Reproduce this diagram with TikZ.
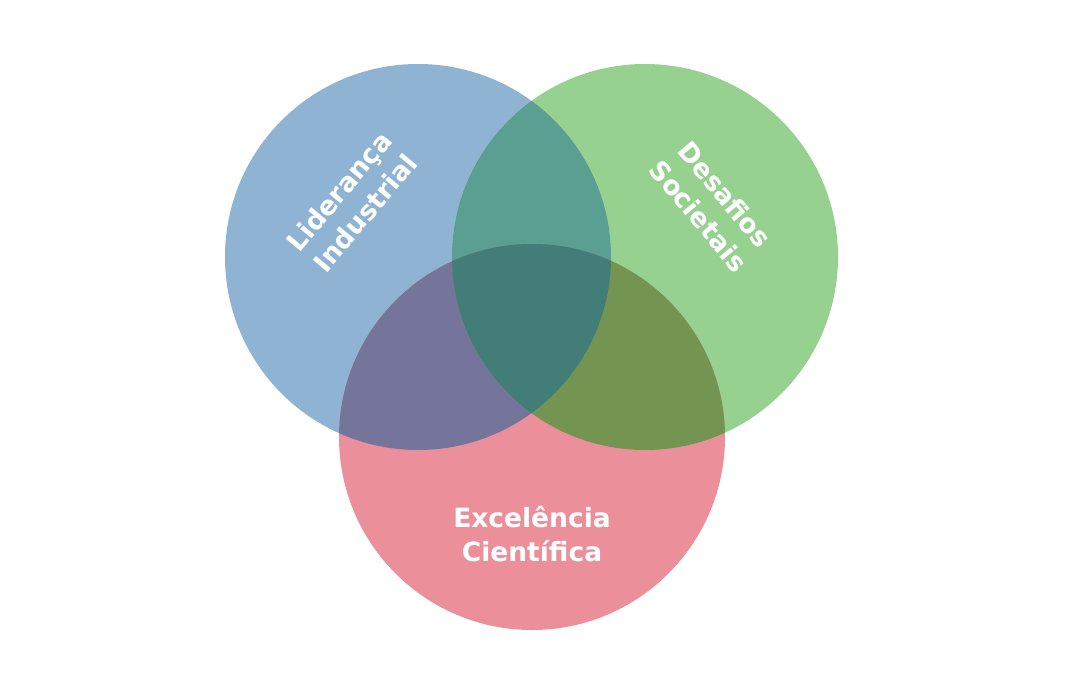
\documentclass[tikz,border=0pt]{standalone}
\usepackage{fontspec}
\setmainfont{DejaVu Sans}
\begin{document}
\begin{tikzpicture}[x=1pt,y=-1pt,
  lbl/.style={text=white,font=\bfseries\fontsize{26.5}{34}\selectfont,align=center}]
\useasboundingbox (0,0) rectangle (1080,675);
\fill[white] (0,0) rectangle (1080,675);
\def\B{(418,257) circle (193)}
\def\G{(645,257) circle (193)}
\def\R{(532,437) circle (193)}
\definecolor{cb}{HTML}{8FB4D3}
\definecolor{cg}{HTML}{96D190}
\definecolor{cr}{HTML}{EB8F9B}
\definecolor{cbg}{HTML}{5A9F92}
\definecolor{cbr}{HTML}{75759C}
\definecolor{cgr}{HTML}{749552}
\definecolor{call}{HTML}{427D78}
\fill[cb] \B; \fill[cg] \G; \fill[cr] \R;
\begin{scope}\clip \B; \fill[cbg] \G; \end{scope}
\begin{scope}\clip \B; \fill[cbr] \R; \end{scope}
\begin{scope}\clip \G; \fill[cgr] \R; \end{scope}
\begin{scope}\clip \B; \clip \G; \fill[call] \R; \end{scope}
\node[lbl,rotate=50] (li) at (352,202) {Liderança\\Industrial};
\node[lbl,rotate=-50] (ds) at (712,205) {Desafios\\Societais};
\node[lbl] (ec) at (532,534) {Excelência\\Científica};
\end{tikzpicture}
\end{document}
